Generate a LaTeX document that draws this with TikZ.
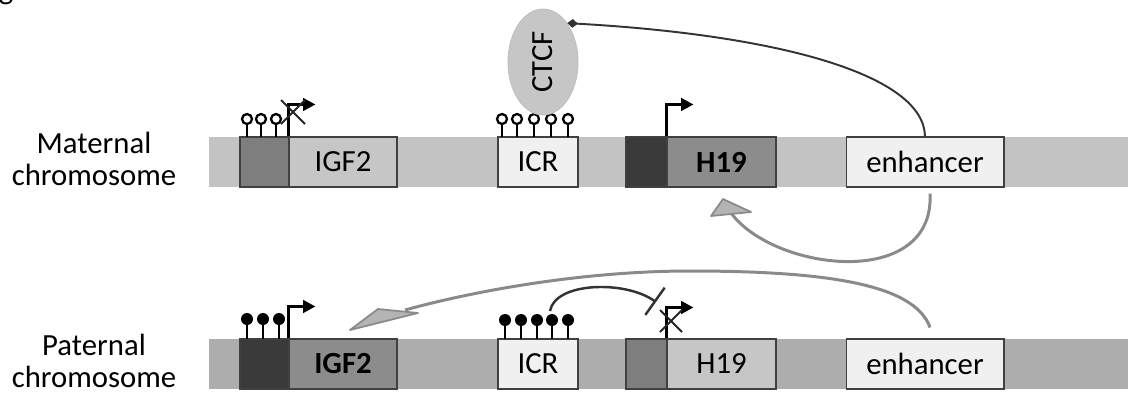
\documentclass[tikz,border=0pt]{standalone}
\usepackage{fontspec}
\setmainfont{Carlito}
\usepackage{tikz}
\usetikzlibrary{positioning,calc,shapes.geometric,arrows.meta}
\definecolor{chrmat}{HTML}{C3C3C3}
\definecolor{chrpat}{HTML}{ADADAD}
\definecolor{boxline}{HTML}{404040}
\definecolor{boxwhite}{HTML}{F0F0F0}
\definecolor{promdark}{HTML}{3A3A3A}
\definecolor{prommid}{HTML}{7E7E7E}
\definecolor{genemid}{HTML}{8C8C8C}
\definecolor{genelight}{HTML}{C6C6C6}
\definecolor{arrowgrey}{HTML}{8A8A8A}
\definecolor{headgrey}{HTML}{B4B4B4}

\begin{document}
\begin{tikzpicture}[x=0.02cm, y=-0.02cm,
  txt/.style={font=\fontsize{17.5}{18.2}\selectfont},
  bold/.style={font=\fontsize{17.5}{18.2}\selectfont\bfseries},
  chrom/.style={fill=#1, minimum width=18.38cm, minimum height=1cm, inner sep=0pt},
  region/.style={draw=boxline, line width=0.6pt, fill=#1, minimum height=1cm, inner sep=0pt, txt},
  stem/.style={line width=1.5pt},
  openpin/.style={draw=black, line width=1.3pt, fill=white},
  fullpin/.style={fill=black},
  promoter/.style={line width=1.8pt, -{Triangle[length=7pt,width=7pt]}},
  xmark/.style={line width=1.1pt, black!85},
  greyarrow/.style={draw=arrowgrey, line width=1.7pt},
  greyhead/.style={fill=headgrey, draw=arrowgrey, line width=1pt, line join=round},
  ctcfline/.style={draw=black!80, line width=1.1pt, -{Diamond[length=6pt,width=5pt]}},
  blockline/.style={draw=black!80, line width=1.4pt, -{Bar[width=19pt]}},
]
\useasboundingbox (0,0) rectangle (1131,397);
\node[txt, anchor=base] (cropg) at (6,-1) {g};

% Maternal chromosome
\node[txt, align=center] (labM) at (94,159) {Maternal\\chromosome};
\node[chrom=chrmat] (chrM) at (668.5,162) {};
\node[region=prommid, minimum width=0.98cm] (pIgfM) at (264.5,162) {};
\node[region=genelight, minimum width=2.16cm] (igfM) at (343,162) {IGF2};
\node[region=boxwhite, minimum width=1.6cm] (icrM) at (538,162) {ICR};
\node[region=promdark, minimum width=0.82cm] (pH19M) at (646.5,162) {};
\node[region=genemid, minimum width=2.18cm, bold] (h19M) at (721.5,162) {H19};
\node[region=boxwhite, minimum width=3.16cm] (enhM) at (925,162) {enhancer};

\foreach \x in {247,261,276} {
  \draw[stem] (\x,137) -- (\x,124);
  \draw[openpin] (\x,119) circle (5);
}
\foreach \x in {502,517,534,551,568} {
  \draw[stem] (\x,137) -- (\x,124);
  \draw[openpin] (\x,119) circle (5);
}
\draw[promoter] (igfM.north west) -- ++(0,-32) -- ++(27,0);
\coordinate (xIgfM) at (293,112);
\draw[xmark] ($(xIgfM)+(-12,-12)$) -- ($(xIgfM)+(12,12)$);
\draw[xmark] ($(xIgfM)+(12,-12)$) -- ($(xIgfM)+(-12,12)$);
\draw[promoter] (h19M.north west) -- ++(0,-32) -- ++(27,0);

\node[ellipse, rotate=90, fill=genelight, draw=black!25, line width=0.5pt,
      minimum width=2.12cm, minimum height=1.4cm, inner sep=0pt, txt] (ctcf) at (543,62) {CTCF};
\draw[ctcfline] (enhM.north) .. controls (924,75) and (780,35) .. (ctcf.-32);
\coordinate (headM) at (731,213);
\draw[greyarrow] ($(enhM.south)+(5,6)$) .. controls (935,290) and (775,272) .. (headM);
\draw[greyhead] (723,199) -- (711,216) -- (751,212) -- cycle;

% Paternal chromosome
\node[txt, align=center] (labP) at (94,361) {Paternal\\chromosome};
\node[chrom=chrpat] (chrP) at (668.5,364) {};
\node[region=promdark, minimum width=0.98cm] (pIgfP) at (264.5,364) {};
\node[region=genemid, minimum width=2.16cm, bold] (igfP) at (343,364) {IGF2};
\node[region=boxwhite, minimum width=1.6cm] (icrP) at (538,364) {ICR};
\node[region=prommid, minimum width=0.82cm] (pH19P) at (646.5,364) {};
\node[region=genelight, minimum width=2.18cm] (h19P) at (721.5,364) {H19};
\node[region=boxwhite, minimum width=3.16cm] (enhP) at (925,364) {enhancer};

\foreach \x in {247,263,279} {
  \draw[stem] (\x,339) -- (\x,322);
  \fill[fullpin] (\x,319) circle (6);
}
\foreach \x in {505,521,537,552,568} {
  \draw[stem] (\x,339) -- (\x,322);
  \fill[fullpin] (\x,320) circle (6);
}
\draw[promoter] (igfP.north west) -- ++(0,-32) -- ++(27,0);
\draw[promoter] (h19P.north west) -- ++(0,-31) -- ++(27,0);
\coordinate (xH19P) at (671,321);
\draw[xmark] ($(xH19P)+(-11,-11)$) -- ($(xH19P)+(11,11)$);
\draw[xmark] ($(xH19P)+(11,-11)$) -- ($(xH19P)+(-11,11)$);
\draw[blockline] (550,311) .. controls (555,282) and (625,280) .. (656,302);
\coordinate (headP) at (405,310);
\draw[greyarrow] ($(enhP.north)+(5,-11)$) .. controls (915,285) and (830,271) .. (690,271)
  .. controls (580,271) and (470,292) .. (headP);
\draw[greyhead] (350,330) -- (378,309) -- (418,313) -- cycle;
\end{tikzpicture}
\end{document}
